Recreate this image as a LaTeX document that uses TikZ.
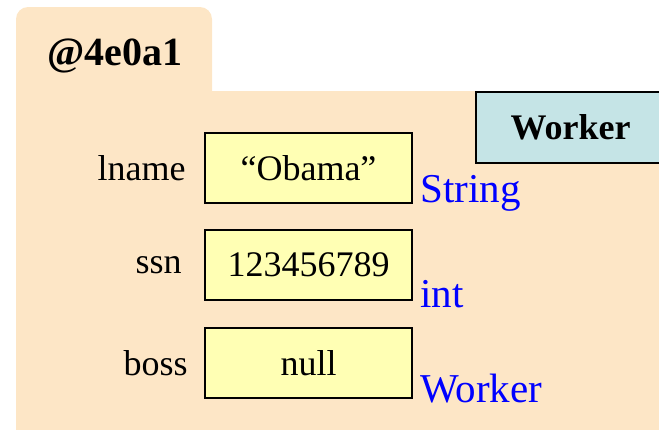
\documentclass[tikz,border=0pt]{standalone}
\usepackage{fontspec}
\setmainfont{Liberation Serif}
\usepackage{xcolor}
\usepackage{tikz}
\usetikzlibrary{positioning}

\definecolor{objpeach}{RGB}{253,230,198}
\definecolor{valyellow}{RGB}{255,255,180}
\definecolor{classblue}{RGB}{197,228,230}

\tikzset{
    valbox/.style={draw, line width=1pt, fill=valyellow, minimum width=103.5pt,
        minimum height=35pt, inner sep=0pt, font=\fontsize{18}{20}\selectfont},
    fieldname/.style={inner sep=0pt, font=\fontsize{18}{20}\selectfont},
    typename/.style={inner sep=0pt, anchor=base west, text=blue,
        font=\fontsize{20.5}{22}\selectfont},
    classbox/.style={draw, line width=1pt, fill=classblue, minimum width=96.5pt,
        minimum height=35.5pt, inner sep=0pt, font=\fontsize{18}{20}\selectfont\bfseries}
}

\begin{document}
\begin{tikzpicture}[x=0.5pt,y=-0.5pt]
    \useasboundingbox (0,0) rectangle (659,429);
    \clip (0,0) rectangle (659,429);

    % object folder: tab and body
    \fill[objpeach, rounded corners=6pt] (16,7) rectangle (212,140);
    \fill[objpeach] (16,91) rectangle (680,450);
    \node[anchor=base, font=\fontsize{20}{22}\selectfont\bfseries] (addr) at (115,65) {@4e0a1};

    % class name
    \node[classbox, anchor=north west] (cls) at (475,91) {\hspace*{-1pt}Worker\hspace*{1pt}};

    % fields
    \node[valbox] (lname) at (308.5,168) {``Obama''};
    \node[valbox] (ssn) at (308.5,265) {123456789};
    \node[valbox] (boss) at (308.5,363) {null};

    \node[fieldname, left=9pt of lname] (lnamelbl) {lname};
    \node[fieldname, left=11pt of ssn] (ssnlbl) {ssn};
    \node[fieldname, left=8pt of boss] (bosslbl) {boss};

    \node[typename] (lnametype) at (420,202) {String};
    \node[typename] (ssntype) at (420,307) {int};
    \node[typename] (bosstype) at (420,402) {Worker};
\end{tikzpicture}
\end{document}
